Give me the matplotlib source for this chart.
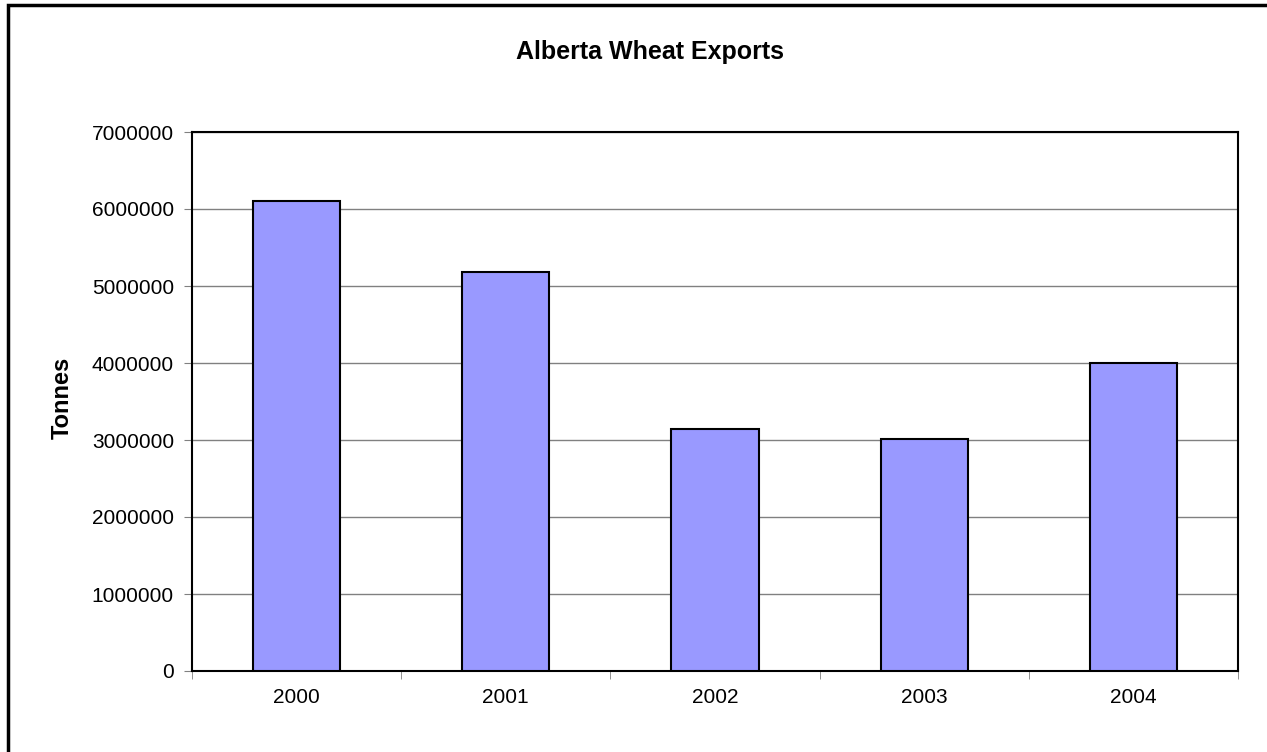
import numpy as np
import matplotlib.pyplot as plt
import matplotlib.patches as patches

years = ['2000', '2001', '2002', '2003', '2004']
tonnes = [6100000, 5180000, 3140000, 3010000, 4000000]
yticks = [0, 1000000, 2000000, 3000000, 4000000, 5000000, 6000000, 7000000]

plt.rcParams['font.family'] = ['Liberation Sans', 'DejaVu Sans']

fig = plt.figure(figsize=(12.67, 7.52), dpi=100)
ax = fig.add_axes([192/1267, 1 - 671/752, (1238 - 192)/1267, (671 - 132)/752])

# outer chart frame (left and top visible)
fig.patches.append(patches.Rectangle((8/1267, -0.05), 1.2, 1 - 5/752 + 0.05,
                                     transform=fig.transFigure, fill=False,
                                     edgecolor='black', linewidth=2.5))

x = np.arange(len(years))
ax.bar(x, tonnes, width=0.416, color='#9999ff', edgecolor='black', linewidth=1.5, zorder=3)

ax.set_xlim(-0.5, len(years) - 0.5)
ax.set_ylim(0, 7000000)
ax.set_yticks(yticks)
ax.set_yticklabels([str(v) for v in yticks], fontsize=15)
ax.yaxis.grid(True, color='#808080', linewidth=1, zorder=0)
ax.set_axisbelow(True)

ax.set_xticks(x)
ax.set_xticklabels(years, fontsize=15)
ax.tick_params(axis='x', length=0, pad=12)
ax.set_xticks(np.arange(-0.5, len(years)), minor=True)
ax.tick_params(axis='x', which='minor', length=6, color='#808080', direction='out')
ax.tick_params(axis='y', length=6, color='#808080', direction='out', pad=7)

for s in ax.spines.values():
    s.set_linewidth(1.5)
    s.set_color('black')

fig.text(62/1267, 1 - 398/752, 'Tonnes', rotation=90, ha='center', va='center',
         fontsize=17, fontweight='bold')
fig.text(650/1267, 1 - 52/752, 'Alberta Wheat Exports',
         ha='center', va='center', fontsize=18, fontweight='bold')

fig.savefig('out.png', dpi=100)
